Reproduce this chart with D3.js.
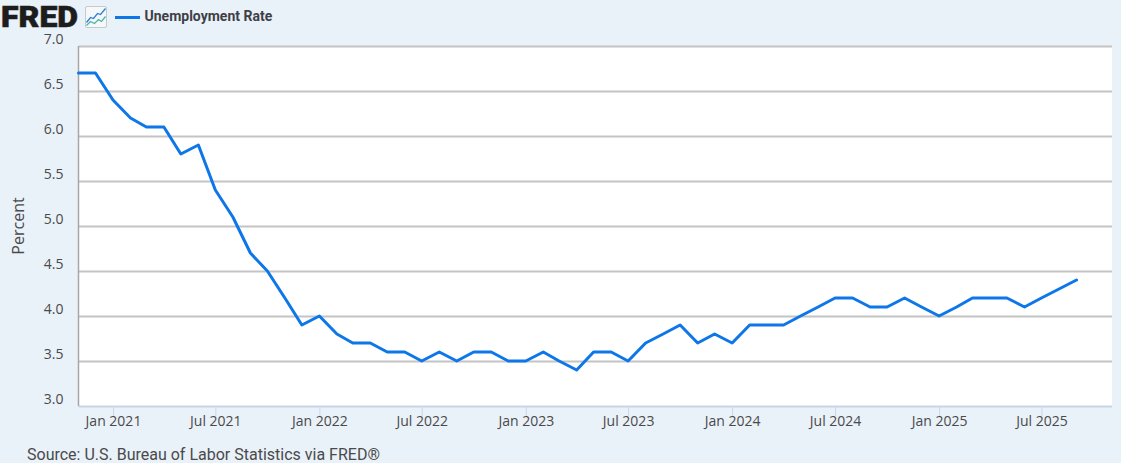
<!DOCTYPE html>
<html>
<head>
<meta charset="utf-8">
<script src="https://cdn.jsdelivr.net/npm/d3@7"></script>
<style>
  html, body { margin: 0; padding: 0; background: #e9f1f9; overflow: hidden; }
  svg { display: block; }
  .tick-label { font-family: "Open Sans", sans-serif; font-size: 14px; fill: #4a4a4a; }
  .axis-title { font-family: "Open Sans", sans-serif; font-size: 16px; fill: #4a4a4a; }
  .legend-label { font-family: Roboto, sans-serif; font-size: 14px; font-weight: 700; fill: #3f3f46; }
  .source { font-family: Roboto, sans-serif; font-size: 16px; fill: #4a4a4a; }
  .logo { font-family: Roboto, sans-serif; font-size: 29px; font-weight: 900; fill: #1d1d1d; stroke: #1d1d1d; stroke-width: 0.6; }
</style>
</head>
<body>
<svg id="chart" width="1121" height="463"></svg>
<script>
// monthly unemployment rate, Nov 2020 -> Sep 2025
const startYear = 2020;
const startMonth = 10;
const rates = [
  6.7, 6.7,
  6.4, 6.2, 6.1, 6.1, 5.8, 5.9, 5.4, 5.1, 4.7, 4.5, 4.2, 3.9,
  4.0, 3.8, 3.7, 3.7, 3.6, 3.6, 3.5, 3.6, 3.5, 3.6, 3.6, 3.5,
  3.5, 3.6, 3.5, 3.4, 3.6, 3.6, 3.5, 3.7, 3.8, 3.9, 3.7, 3.8,
  3.7, 3.9, 3.9, 3.9, 4.0, 4.1, 4.2, 4.2, 4.1, 4.1, 4.2, 4.1,
  4.0, 4.1, 4.2, 4.2, 4.2, 4.1, 4.2, 4.3, 4.4
];
const yTicks = [3.0, 3.5, 4.0, 4.5, 5.0, 5.5, 6.0, 6.5, 7.0];
const xTickDates = [
  "2021-01", "2021-07", "2022-01", "2022-07", "2023-01", "2023-07",
  "2024-01", "2024-07", "2025-01", "2025-07"
];
const seriesName = "Unemployment Rate";
const yTitle = "Percent";
const sourceText = "Source: U.S. Bureau of Labor Statistics via FRED\u00AE";

const parseMonth = d3.utcParse("%Y-%m");
const series = rates.map((v, i) => ({ date: new Date(Date.UTC(startYear, startMonth + i, 1)), value: v }));

const plot = { left: 78.5, right: 1112, top: 46, bottom: 406 };

const x = d3.scaleUtc()
  .domain([new Date(Date.UTC(2020, 10, 1)), new Date(Date.UTC(2025, 10, 1))])
  .range([plot.left, plot.right - 1]);

const y = d3.scaleLinear().domain([3, 7]).range([plot.bottom, plot.top]);

const svg = d3.select("#chart");

// plot background
svg.append("rect")
  .attr("x", plot.left)
  .attr("y", plot.top)
  .attr("width", plot.right - plot.left)
  .attr("height", plot.bottom - plot.top)
  .attr("fill", "#fff");

// horizontal grid + y labels
const yAxis = svg.append("g")
  .attr("transform", `translate(${plot.left},0)`)
  .call(d3.axisLeft(y).tickValues(yTicks).tickFormat(d3.format(".1f")).tickSize(0).tickPadding(15));
yAxis.select(".domain").remove();
yAxis.selectAll(".tick line")
  .attr("x2", plot.right - plot.left)
  .attr("stroke", "#c4c4c4")
  .attr("stroke-width", 2);
yAxis.selectAll(".tick text")
  .attr("class", "tick-label")
  .attr("dy", "-0.16em");
yAxis.selectAll(".tick").filter(d => d === 3)
  .select("line").attr("stroke", "#c9d3e6");

// left edge of the plot
svg.append("line")
  .attr("x1", plot.left).attr("x2", plot.left)
  .attr("y1", plot.top).attr("y2", plot.bottom)
  .attr("stroke", "#a6a6a6")
  .attr("stroke-width", 1.5);

// x axis
const xAxis = svg.append("g")
  .attr("transform", `translate(0,${plot.bottom})`)
  .call(d3.axisBottom(x)
    .tickValues(xTickDates.map(parseMonth))
    .tickFormat(d3.utcFormat("%b %Y"))
    .tickSize(10)
    .tickPadding(0));
xAxis.select(".domain").remove();
xAxis.selectAll(".tick line").attr("stroke", "#ccd6eb");
xAxis.selectAll(".tick text").attr("class", "tick-label");

// series line
const line = d3.line().x(d => x(d.date)).y(d => y(d.value));
svg.append("path")
  .datum(series)
  .attr("d", line)
  .attr("fill", "none")
  .attr("stroke", "#0d76e8")
  .attr("stroke-width", 3)
  .attr("stroke-linejoin", "round")
  .attr("stroke-linecap", "round");

// y title
svg.append("text")
  .attr("class", "axis-title")
  .attr("transform", "translate(24,226) rotate(-90)")
  .attr("text-anchor", "middle")
  .text(yTitle);

// logo
svg.append("text")
  .attr("class", "logo")
  .attr("x", 1)
  .attr("y", 27)
  .attr("textLength", 77)
  .attr("lengthAdjust", "spacingAndGlyphs")
  .text("FRED");

// small graph icon next to the logo
const icon = svg.append("g").attr("transform", "translate(85.5,6.5)");
icon.append("rect")
  .attr("width", 21).attr("height", 21).attr("rx", 1.5)
  .attr("fill", "#f4f8fb").attr("stroke", "#c9c9c9");
icon.append("path")
  .attr("d", "M1,16 L5,11 L8,12 L12,7 L15,8 L20,2")
  .attr("fill", "none").attr("stroke", "#2f7fd0").attr("stroke-width", 1.3);
icon.append("path")
  .attr("d", "M1,19 L5,15 L9,17 L13,13 L16,15 L20,10")
  .attr("fill", "none").attr("stroke", "#4fb5a5").attr("stroke-width", 1.3);

// legend
svg.append("line")
  .attr("x1", 115).attr("x2", 140)
  .attr("y1", 17.5).attr("y2", 17.5)
  .attr("stroke", "#0d76e8")
  .attr("stroke-width", 3);
svg.append("text")
  .attr("class", "legend-label")
  .attr("x", 144.5)
  .attr("y", 21)
  .text(seriesName);

// source note
svg.append("text")
  .attr("class", "source")
  .attr("x", 27)
  .attr("y", 460)
  .text(sourceText);
</script>
</body>
</html>
